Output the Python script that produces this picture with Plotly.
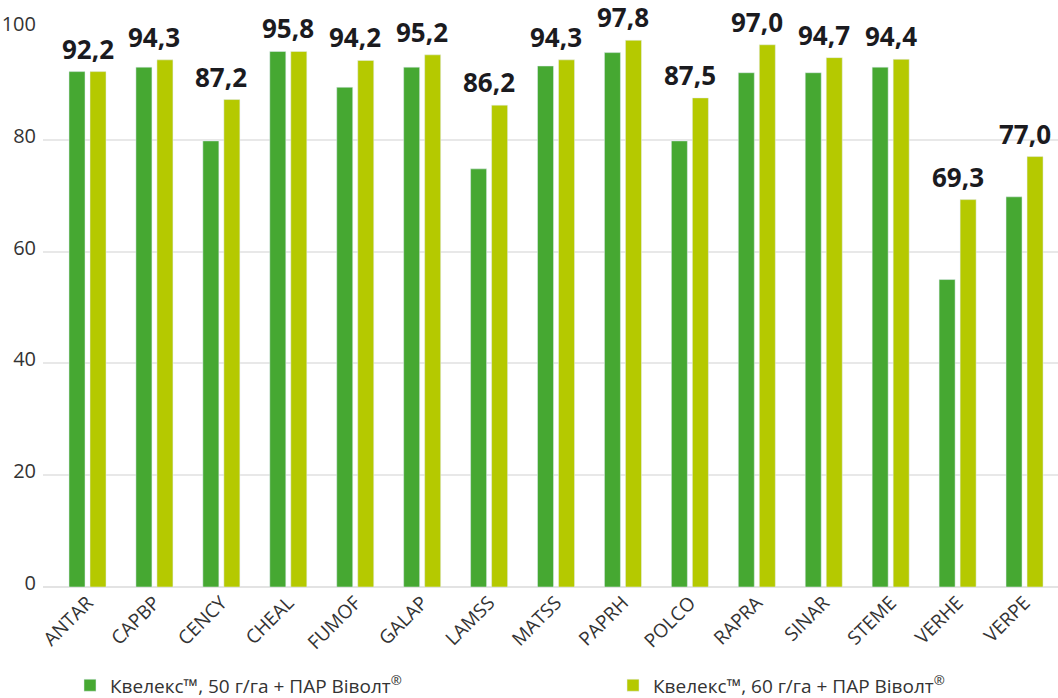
import plotly.graph_objects as go

categories = ["ANTAR", "CAPBP", "CENCY", "CHEAL", "FUMOF", "GALAP", "LAMSS", "MATSS",
              "PAPRH", "POLCO", "RAPRA", "SINAR", "STEME", "VERHE", "VERPE"]
dose50 = [92.2, 93.0, 79.8, 95.8, 89.4, 93.0, 74.8, 93.2, 95.6, 79.8, 92.0, 92.0, 93.0, 55.0, 69.8]
dose60 = [92.2, 94.3, 87.2, 95.8, 94.2, 95.2, 86.2, 94.3, 97.8, 87.5, 97.0, 94.7, 94.4, 69.3, 77.0]
series_names = ["Квелекс™, 50 г/га + ПАР Віволт<sup>®</sup>", "Квелекс™, 60 г/га + ПАР Віволт<sup>®</sup>"]
y_ticks = [0, 20, 40, 60, 80, 100]

GREEN = "#46A832"
LIME = "#B5C900"
FONT = "Open Sans"

fig = go.Figure()
fig.add_trace(go.Bar(x=categories, y=dose50, name=series_names[0], marker_color=GREEN,
                     legend="legend"))
fig.add_trace(go.Bar(x=categories, y=dose60, name=series_names[1], marker_color=LIME,
                     legend="legend2"))

for c, v in zip(categories, dose60):
    fig.add_annotation(x=c, y=v, text=f"{v:.1f}".replace(".", ","), showarrow=False,
                       yanchor="bottom", yshift=3,
                       font=dict(family=FONT, size=26, color="#1b1b1f", weight="bold"))

legend_common = dict(orientation="h", y=-0.176, xanchor="left", yanchor="middle",
                     font=dict(family=FONT, size=19, color="#333333"),
                     bgcolor="rgba(0,0,0,0)")

fig.update_layout(
    width=1058, height=698,
    margin=dict(l=43, r=0, t=28, b=111, autoexpand=False),
    paper_bgcolor="white", plot_bgcolor="white",
    barmode="group", bargap=0.372, bargroupgap=0.238,
    font=dict(family=FONT, color="#333333"),
    showlegend=True,
    legend=dict(x=0.0266, **legend_common),
    legend2=dict(x=0.5616, **legend_common),
    xaxis=dict(range=[-0.665, 14.5], tickangle=-45, automargin=False,
               tickfont=dict(family=FONT, size=19, color="#333333"),
               showgrid=False, showline=False, ticks=""),
    yaxis=dict(range=[0, 100], tickvals=y_ticks, automargin=False,
               tickfont=dict(family=FONT, size=20, color="#333333"),
               showgrid=True, gridcolor="#e8e8e8", gridwidth=1.5, zeroline=True,
               zerolinecolor="#e3e3e3", zerolinewidth=2, ticks="", ticklabelstandoff=6,
               ticklabelshift=-4),
)

fig.write_html("out.html", config={"displayModeBar": False},
               post_script="document.body.style.margin='0';")
